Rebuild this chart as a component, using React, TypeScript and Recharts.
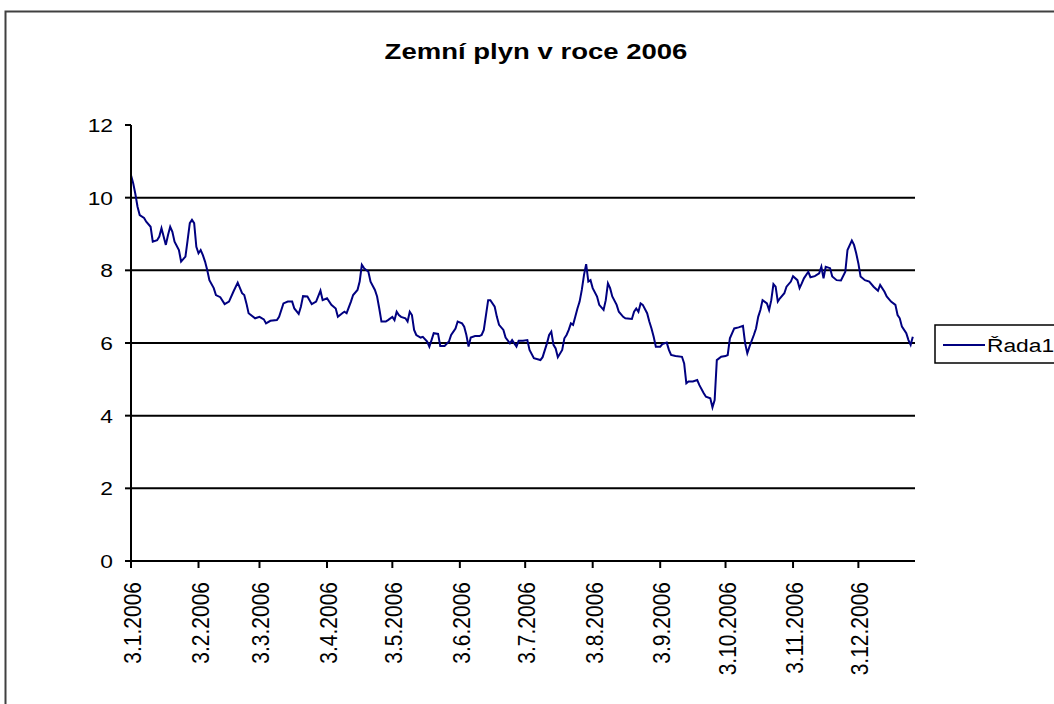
import React from "react";
import { LineChart, Line, XAxis, YAxis, CartesianGrid } from "recharts";

// days after 3.1.2006
const days = [
  0, 1, 2, 3, 4, 6, 7, 9, 10, 12, 13, 14, 16, 17, 18, 19, 20, 22, 23, 25,
  26, 27, 28, 29, 30, 31, 32, 33, 34, 35, 36, 38, 39, 41, 43, 45, 47, 49, 51, 52,
  53, 54, 57, 59, 61, 62, 64, 67, 68, 70, 72, 74, 75, 77, 78, 79, 81, 83, 85, 87,
  88, 90, 92, 94, 95, 97, 98, 99, 101, 102, 104, 105, 106, 107, 109, 110, 112, 113, 114, 115,
  117, 118, 120, 121, 122, 123, 124, 126, 127, 128, 129, 130, 131, 133, 134, 136, 137, 138, 139, 141,
  142, 144, 146, 147, 149, 150, 152, 153, 154, 155, 156, 158, 160, 161, 162, 164, 165, 167, 168, 169,
  171, 172, 174, 175, 177, 178, 180, 182, 183, 185, 188, 189, 191, 192, 193, 194, 195, 196, 198, 199,
  200, 201, 202, 203, 204, 205, 206, 207, 208, 209, 210, 211, 212, 214, 215, 217, 218, 219, 220, 221,
  223, 224, 226, 227, 230, 231, 232, 233, 234, 235, 237, 238, 239, 240, 241, 243, 244, 246, 247, 248,
  250, 253, 254, 255, 256, 258, 260, 261, 263, 264, 266, 267, 268, 269, 271, 273, 274, 275, 277, 279,
  281, 282, 283, 284, 286, 287, 288, 289, 290, 292, 293, 294, 295, 296, 297, 298, 300, 301, 303, 304,
  306, 307, 308, 309, 311, 312, 314, 316, 317, 318, 319, 321, 322, 324, 326, 328, 329, 331, 332, 333,
  334, 335, 337, 339, 341, 343, 344, 346, 347, 349, 351, 352, 353, 354, 356, 357, 358, 359,
];

const prices = [
  10.62, 10.4, 10.1, 9.75, 9.52, 9.44, 9.34, 9.2, 8.79, 8.83, 8.93, 9.16, 8.7, 8.97, 9.2, 9.06, 8.79, 8.56, 8.24, 8.38,
  8.83, 9.3, 9.39, 9.3, 8.65, 8.47, 8.56, 8.42, 8.24, 8.01, 7.73, 7.51, 7.32, 7.26, 7.07, 7.14, 7.41, 7.66, 7.37, 7.32,
  7.09, 6.82, 6.68, 6.72, 6.65, 6.54, 6.61, 6.63, 6.72, 7.09, 7.14, 7.14, 6.95, 6.8, 7.0, 7.29, 7.28, 7.07, 7.14, 7.44,
  7.18, 7.23, 7.05, 6.95, 6.72, 6.82, 6.86, 6.82, 7.14, 7.32, 7.46, 7.69, 8.15, 8.06, 7.96, 7.69, 7.46, 7.28, 6.95, 6.59,
  6.59, 6.63, 6.72, 6.63, 6.86, 6.77, 6.72, 6.68, 6.59, 6.86, 6.77, 6.36, 6.22, 6.15, 6.17, 6.04, 5.9, 6.08, 6.27, 6.25,
  5.92, 5.92, 6.04, 6.22, 6.4, 6.59, 6.54, 6.45, 6.22, 5.9, 6.15, 6.19, 6.19, 6.22, 6.36, 7.18, 7.18, 7.0, 6.72, 6.5,
  6.36, 6.15, 5.99, 6.08, 5.9, 6.06, 6.06, 6.08, 5.81, 5.58, 5.53, 5.61, 5.99, 6.22, 6.31, 5.95, 5.85, 5.61, 5.81, 6.13,
  6.22, 6.36, 6.54, 6.5, 6.72, 6.95, 7.14, 7.46, 7.87, 8.17, 7.69, 7.73, 7.51, 7.28, 7.05, 6.91, 7.18, 7.64, 7.51, 7.28,
  7.05, 6.86, 6.72, 6.68, 6.66, 6.86, 6.95, 6.86, 7.09, 7.05, 6.82, 6.59, 6.4, 6.17, 5.9, 5.9, 5.97, 6.01, 5.81, 5.67,
  5.64, 5.62, 5.44, 4.89, 4.94, 4.94, 4.98, 4.84, 4.62, 4.52, 4.48, 4.23, 4.43, 5.53, 5.62, 5.64, 5.67, 6.13, 6.4, 6.43,
  6.47, 5.99, 5.72, 5.9, 6.22, 6.4, 6.72, 6.91, 7.18, 7.09, 6.91, 7.18, 7.62, 7.55, 7.14, 7.23, 7.37, 7.55, 7.69, 7.84,
  7.73, 7.51, 7.64, 7.78, 7.96, 7.81, 7.84, 7.92, 8.1, 7.78, 8.1, 8.06, 7.83, 7.73, 7.72, 7.96, 8.56, 8.82, 8.7, 8.47,
  8.19, 7.83, 7.73, 7.69, 7.55, 7.44, 7.6, 7.41, 7.28, 7.14, 7.05, 6.77, 6.68, 6.45, 6.27, 6.08, 5.95, 6.17,
];

const tickDays = [0, 31, 59, 90, 120, 151, 181, 212, 243, 273, 304, 334];
const tickLabels = [
  "3.1.2006", "3.2.2006", "3.3.2006", "3.4.2006", "3.5.2006", "3.6.2006",
  "3.7.2006", "3.8.2006", "3.9.2006", "3.10.2006", "3.11.2006", "3.12.2006",
];
const yTicks = [0, 2, 4, 6, 8, 10, 12];
const gridValues = [2, 4, 6, 8, 10];
const title = "Zemní plyn v roce 2006";
const seriesName = "Řada1";

const data = days.map((d, i) => ({ day: d, v: prices[i] }));
const FONT = "'Liberation Sans', Arial, sans-serif";

const YTick = (props: any) => {
  const { x, y, payload } = props;
  return (
    <text
      transform={`translate(${x},${y}) scale(1.2,1)`}
      textAnchor="end"
      dy="0.36em"
      fontSize={19}
      fontFamily={FONT}
      fill="#000"
    >
      {payload.value}
    </text>
  );
};

const XTick = (props: any) => {
  const { x, y, payload } = props;
  const idx = tickDays.indexOf(payload.value);
  const label = idx >= 0 ? tickLabels[idx] : String(payload.value);
  return (
    <text
      transform={`translate(${x + 10},${y + 14}) scale(1.12,1) rotate(-90)`}
      textAnchor="end"
      fontSize={21}
      fontFamily={FONT}
      fill="#000"
    >
      {label}
    </text>
  );
};

export default function App() {
  return (
    <div
      style={{
        position: "absolute",
        left: 0,
        top: 0,
        width: 1054,
        height: 704,
        background: "#fff",
        overflow: "hidden",
      }}
    >
      <LineChart
        width={1054}
        height={704}
        data={data}
        margin={{ top: 125, right: 139, bottom: 0, left: 0 }}
      >
        <CartesianGrid
          vertical={false}
          horizontalValues={gridValues}
          stroke="#000"
          strokeWidth={2}
        />
        <XAxis
          xAxisId="top"
          orientation="top"
          dataKey="day"
          type="number"
          domain={[0, 360]}
          height={0}
          tick={false}
          tickLine={false}
          axisLine={{ stroke: "#a0a0a0", strokeWidth: 2 }}
        />
        <YAxis
          yAxisId="right"
          orientation="right"
          domain={[0, 12]}
          width={0}
          tick={false}
          tickLine={false}
          axisLine={{ stroke: "#a0a0a0", strokeWidth: 2 }}
        />
        <XAxis
          dataKey="day"
          type="number"
          domain={[0, 360]}
          ticks={tickDays}
          interval={0}
          height={143}
          tickSize={7}
          tickMargin={0}
          tick={<XTick />}
          tickLine={{ stroke: "#000", strokeWidth: 2 }}
          axisLine={{ stroke: "#000", strokeWidth: 2 }}
        />
        <YAxis
          domain={[0, 12]}
          ticks={yTicks}
          interval={0}
          width={131}
          tickSize={6}
          tickMargin={12}
          tick={<YTick />}
          tickLine={{ stroke: "#000", strokeWidth: 2 }}
          axisLine={{ stroke: "#000", strokeWidth: 2 }}
        />
        <Line
          type="linear"
          dataKey="v"
          stroke="#000080"
          strokeWidth={2}
          dot={false}
          isAnimationActive={false}
        />
      </LineChart>
      <svg
        width={1054}
        height={704}
        style={{ position: "absolute", left: 0, top: 0, pointerEvents: "none" }}
      >
        <rect x={5.5} y={11.5} width={1100} height={760} fill="none" stroke="#404040" strokeWidth={2} />
        <text
          transform="translate(536,59) scale(1.28,1)"
          textAnchor="middle"
          fontSize={21.5}
          fontWeight="bold"
          fontFamily={FONT}
          fill="#000"
        >
          {title}
        </text>
        <rect x={935} y={325} width={200} height={38} fill="#fff" stroke="#000" strokeWidth={1.5} />
        <line x1={943} y1={345} x2={985} y2={345} stroke="#000080" strokeWidth={2} />
        <text
          transform="translate(987,352) scale(1.2,1)"
          fontSize={19}
          fontFamily={FONT}
          fill="#000"
        >
          {seriesName}
        </text>
      </svg>
    </div>
  );
}
